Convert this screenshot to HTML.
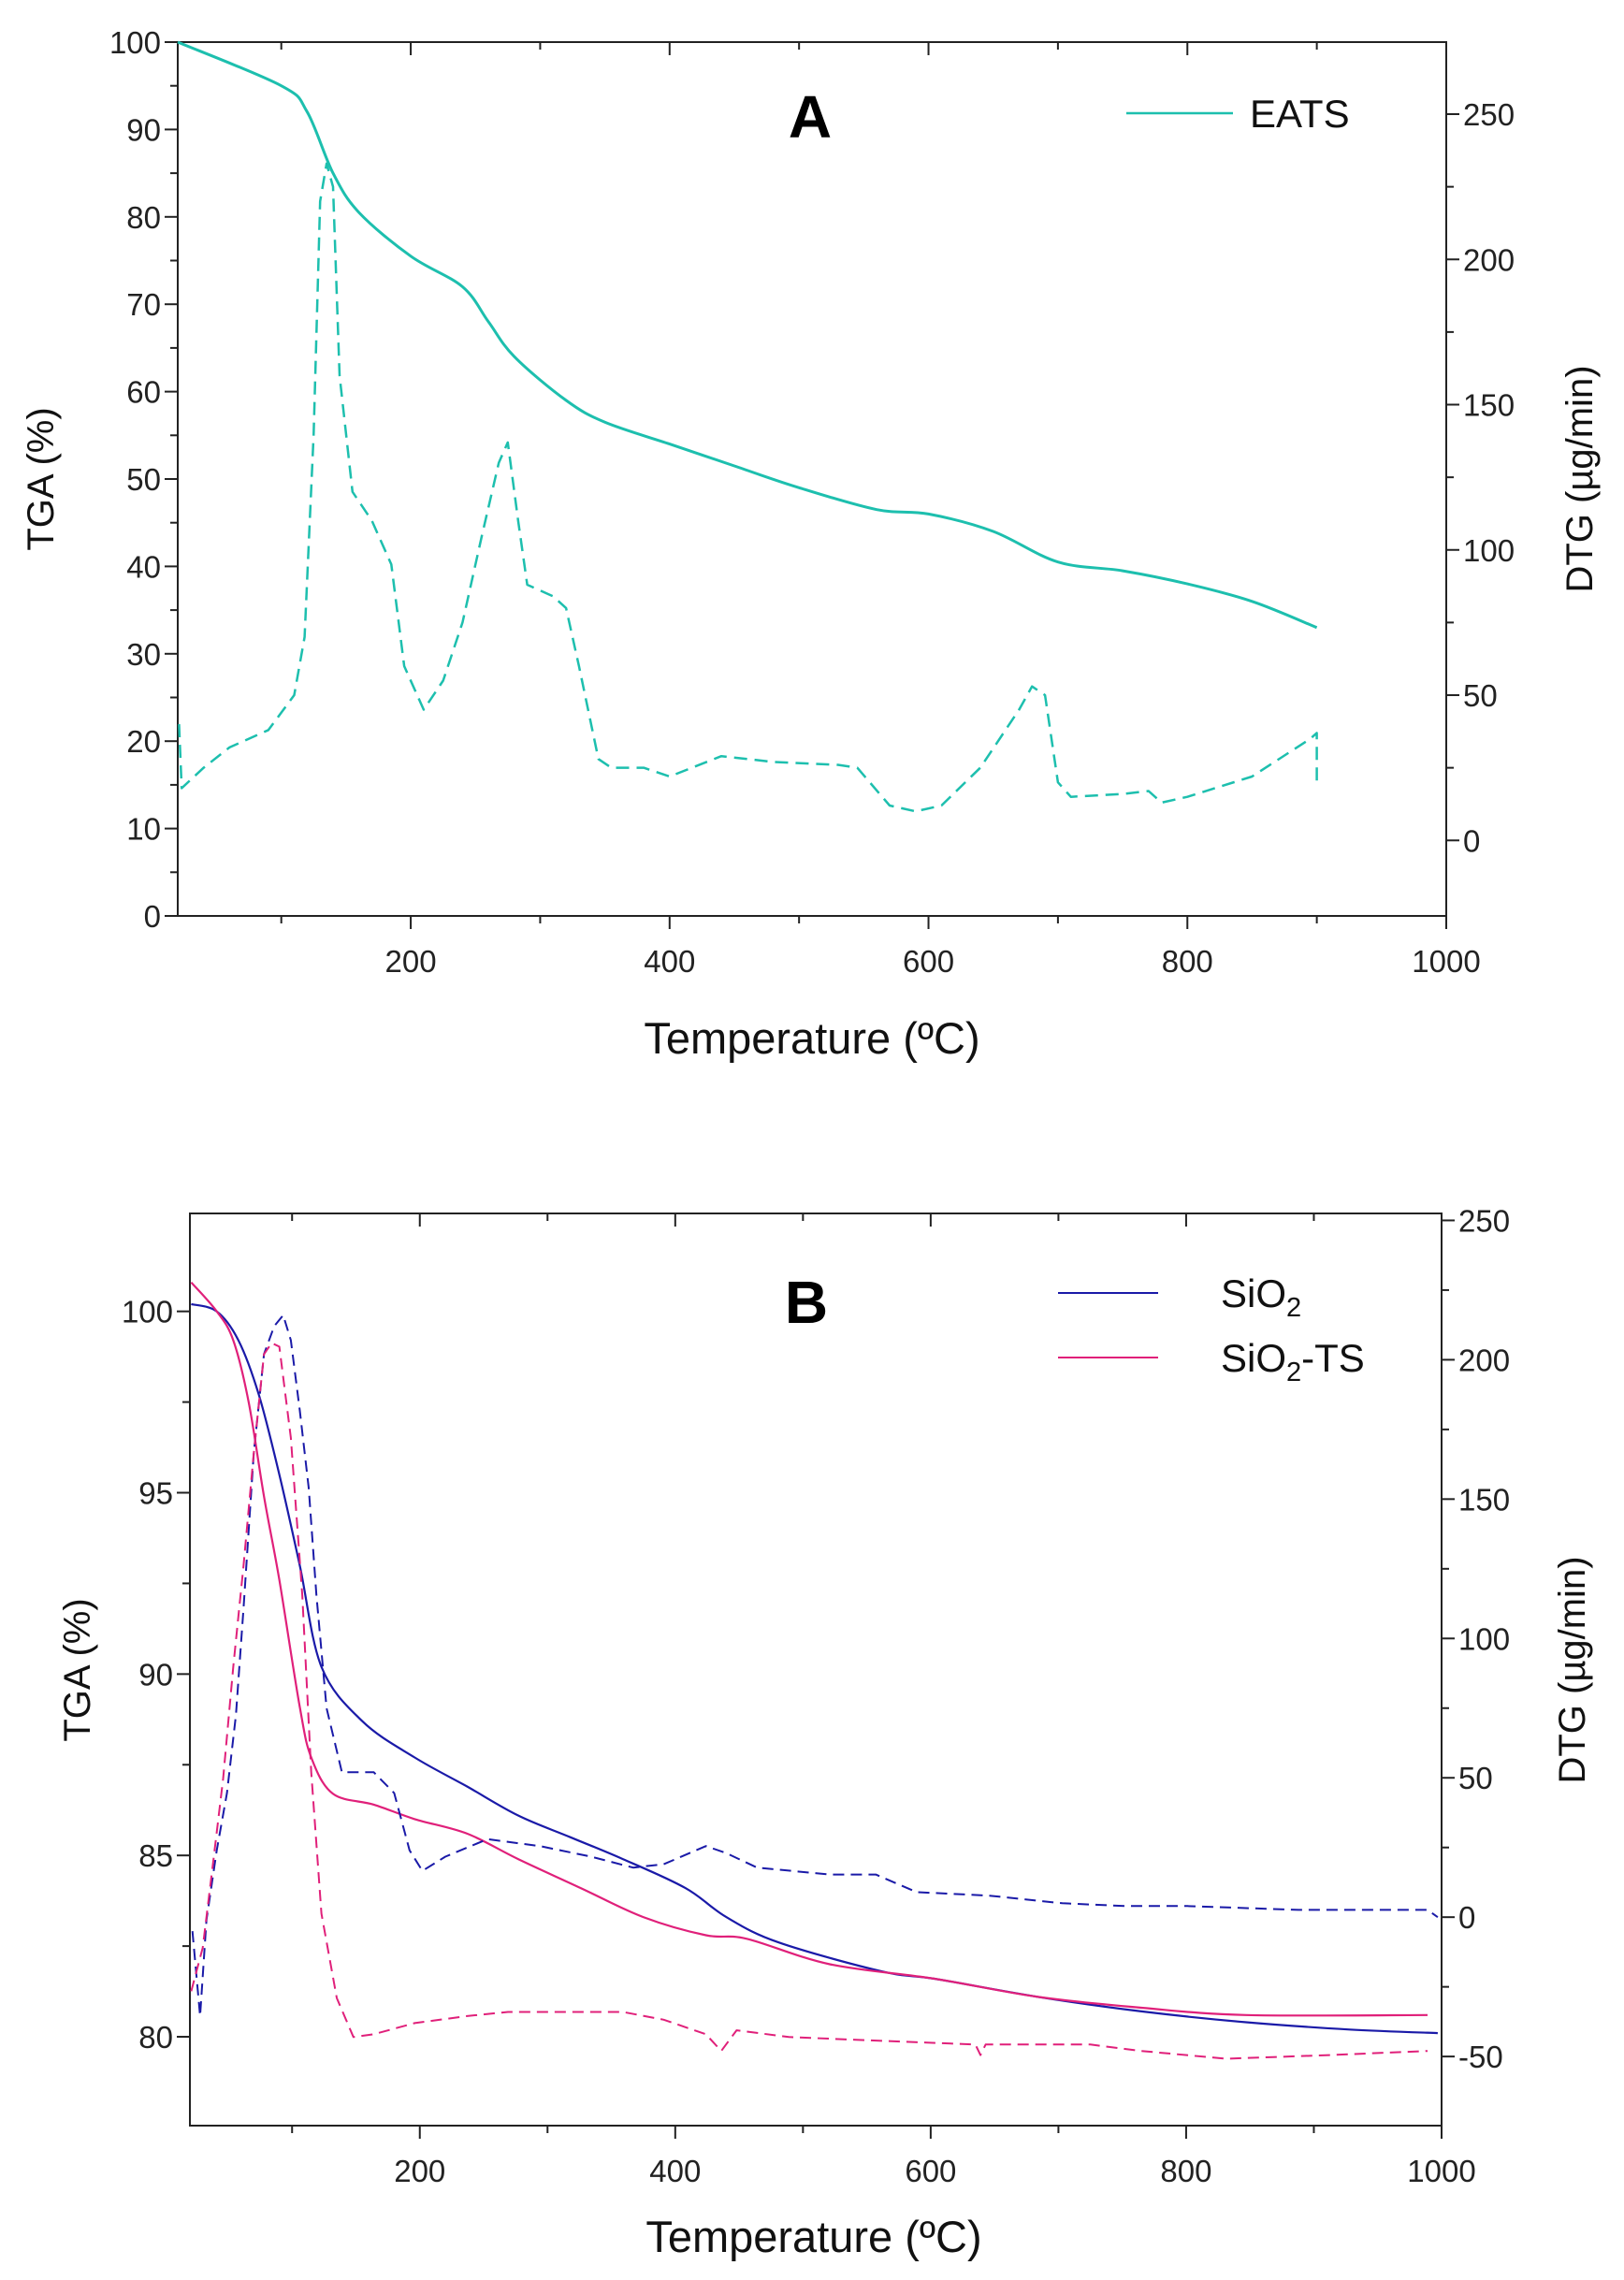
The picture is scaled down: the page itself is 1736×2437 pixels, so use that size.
<!DOCTYPE html>
<html><head><meta charset="utf-8">
<style>
html,body{margin:0;padding:0;background:#fff;}
svg{display:block;}
.tick{font-family:"Liberation Sans Narrow","Liberation Sans",sans-serif;font-size:33px;fill:#222;}
.ttl{font-family:"Liberation Sans",sans-serif;font-size:40px;fill:#111;}
.xt{font-family:"Liberation Sans Narrow","Liberation Sans",sans-serif;font-size:47px;fill:#111;}
.leg{font-family:"Liberation Sans Narrow","Liberation Sans",sans-serif;font-size:42px;fill:#111;}
.big{font-family:"Liberation Sans",sans-serif;font-size:64px;font-weight:bold;fill:#000;}
</style></head>
<body>
<svg id="chart" width="1736" height="2437" viewBox="0 0 1736 2437" xmlns="http://www.w3.org/2000/svg"></svg>
<script>
// Panel A data
const aTgaX=[20,100,120,140,160,200,240,260,280,320,350,400,450,500,560,600,650,700,750,800,850,900];
const aTgaY=[100,95,92,85,80.5,75.5,72,68,64,59,56.5,54,51.5,49,46.5,46,44,40.5,39.5,38,36,33];
const aDtgX=[21,23,40,60,90,110,118,125,130,135,140,145,155,170,185,195,210,225,240,255,268,275,283,290,310,320,330,345,355,380,400,440,480,530,545,570,590,610,640,670,680,690,700,710,750,770,780,800,850,895,900,900];
const aDtgY=[40,18,25,32,38,50,70,140,220,233,225,160,120,110,95,60,45,55,75,105,130,137,110,88,84,80,60,28,25,25,22,29,27,26,25,12,10,12,25,45,53,50,20,15,16,17,13,15,22,35,37,20];
const aXTicks=[200,400,600,800,1000];
const aYTicks=[0,10,20,30,40,50,60,70,80,90,100];
const aRTicks=[0,50,100,150,200,250];
// Panel B data
const bSiX=[21,41,58,74,90,106,123,155,196,237,277,318,359,408,440,481,562,603,684,765,847,928,997];
const bSiY=[100.2,100,99.2,97.7,95.5,93,90.2,88.7,87.7,86.9,86.1,85.5,84.9,84.1,83.3,82.6,81.8,81.6,81.1,80.7,80.4,80.2,80.1];
const bTsX=[21,41,54,66,78,90,106,115,132,164,196,237,277,326,375,424,456,521,603,684,765,847,989];
const bTsY=[100.8,100,99.2,97.5,94.9,92.6,89.1,87.7,86.7,86.4,86,85.6,84.9,84.1,83.3,82.8,82.7,82,81.6,81.1,80.8,80.6,80.6];
const bSiDX=[22,28,33,41,49,56,62,70,78,86,93,99,106,113,119,127,139,152,164,180,192,202,220,253,294,334,367,391,424,440,464,521,557,589,646,703,752,801,888,989,997];
const bSiDY=[-5,-35.5,-1,24,44.5,72.5,110.7,166.6,202,212,216,207,182,154,115.7,75,52,52,52,44.5,24,16.6,21.7,28,25.5,21.7,17.8,19,25.5,23,17.8,15.3,15.3,9,7.7,5,4,4,2.6,2.6,0];
const bTsDX=[21,30,38,46,54,62,70,78,84,90,99,108,115,123,135,148,164,196,237,269,318,359,391,424,436,448,489,562,635,639,643,725,765,831,912,989];
const bTsDY=[-26.6,-11,19,49.6,90,126,166.6,202,206,204.7,172,115.7,52,1.3,-29,-43,-42,-38,-35.5,-34,-34,-34,-36.8,-42,-48,-40.6,-43,-44.4,-45.7,-49.5,-45.7,-45.7,-48,-50.8,-49.5,-48];
const bXTicks=[200,400,600,800,1000];
const bYTicks=[80,85,90,95,100];
const bRTicks=[-50,0,50,100,150,200,250];

const NS='http://www.w3.org/2000/svg';
const svg=document.getElementById('chart');
function mk(tag,attrs,parent){const e=document.createElementNS(NS,tag);for(const k in attrs)e.setAttribute(k,attrs[k]);(parent||svg).appendChild(e);return e;}
function lin(d0,d1,r0,r1){return v=>r0+(v-d0)*(r1-r0)/(d1-d0);}
function smoothPath(pts){
  let d='M'+pts[0][0].toFixed(1)+','+pts[0][1].toFixed(1);
  for(let i=0;i<pts.length-1;i++){
    const p0=pts[Math.max(0,i-1)],p1=pts[i],p2=pts[i+1],p3=pts[Math.min(pts.length-1,i+2)];
    const c1x=p1[0]+(p2[0]-p0[0])/6,c1y=p1[1]+(p2[1]-p0[1])/6;
    const c2x=p2[0]-(p3[0]-p1[0])/6,c2y=p2[1]-(p3[1]-p1[1])/6;
    d+=' C'+c1x.toFixed(1)+','+c1y.toFixed(1)+' '+c2x.toFixed(1)+','+c2y.toFixed(1)+' '+p2[0].toFixed(1)+','+p2[1].toFixed(1);
  }
  return d;
}

function panel(p){
  const g=mk('g',{});
  
  
  const sx=lin(p.xmin,p.xmax,p.L,p.R), sy=lin(p.ymin,p.ymax,p.B,p.T), sr=lin(p.rmin,p.rmax,p.B,p.T);
  const fr=mk('rect',{x:p.L,y:p.T,width:p.R-p.L,height:p.B-p.T,fill:'none',stroke:'#222','stroke-width':2},g);
  
  
  for(let v=100;v<=p.xmax;v+=100){const x=sx(v);const maj=v%200===0;
    mk('line',{x1:x,x2:x,y1:p.B,y2:p.B+(maj?14:8),stroke:'#222','stroke-width':2},g);
    mk('line',{x1:x,x2:x,y1:p.T,y2:p.T+(maj?14:8),stroke:'#222','stroke-width':2},g);}
  p.xt.forEach(v=>{const t=mk('text',{x:sx(v),y:p.B+60,'text-anchor':'middle',class:'tick'},g);t.textContent=v;
    
    });
  for(let i=0;i<p.yt.length;i++){const v=p.yt[i];const y=sy(v);
    mk('line',{x1:p.L-14,x2:p.L,y1:y,y2:y,stroke:'#222','stroke-width':2},g);
    if(i<p.yt.length-1){const h=sy(v+(p.yt[1]-p.yt[0])/2);mk('line',{x1:p.L-8,x2:p.L,y1:h,y2:h,stroke:'#222','stroke-width':2},g);}
    const t=mk('text',{x:p.L-18,y:y+12,'text-anchor':'end',class:'tick'},g);t.textContent=v;
    
    }
  for(let i=0;i<p.rt.length;i++){const v=p.rt[i];const y=sr(v);
    mk('line',{x1:p.R,x2:p.R+14,y1:y,y2:y,stroke:'#222','stroke-width':2},g);
    const h=sr(v+(p.rt[1]-p.rt[0])/2);if(h>p.T)mk('line',{x1:p.R,x2:p.R+8,y1:h,y2:h,stroke:'#222','stroke-width':2},g);
    const t=mk('text',{x:p.R+18,y:y+12,'text-anchor':'start',class:'tick'},g);t.textContent=v;
    
    }
  p.series.forEach(s=>{
    const sc=s.axis==='r'?sr:sy;
    const pts=s.x.map((v,i)=>[sx(v),sc(s.y[i])]);
    const d=s.smooth?smoothPath(pts):pts.map((q,i)=>(i?'L':'M')+q[0].toFixed(1)+','+q[1].toFixed(1)).join(' ');
    const pa=mk('path',{d:d,fill:'none',stroke:s.c,'stroke-width':s.w,'stroke-linejoin':'round'},g);
    if(s.dash)pa.setAttribute('stroke-dasharray',s.dash);
    
    
  });
  return g;
}

panel({name:'panel-a',L:190,R:1546,T:45,B:979,xmin:20,xmax:1000,ymin:0,ymax:100,rmin:-26,rmax:274.8,
  xt:aXTicks,yt:aYTicks,rt:aRTicks,
  series:[{name:'eats-tga-line',x:aTgaX,y:aTgaY,c:'#1dbfae',w:3,smooth:true},
          {name:'eats-dtg-line',x:aDtgX,y:aDtgY,c:'#1dbfae',w:2.5,dash:'14 8',axis:'r'}]});
panel({name:'panel-b',L:203,R:1541,T:1297,B:2272,xmin:20,xmax:1000,ymin:77.55,ymax:102.7,rmin:-74.8,rmax:252.5,
  xt:bXTicks,yt:bYTicks,rt:bRTicks,
  series:[{name:'sio2-tga-line',x:bSiX,y:bSiY,c:'#1a1aa8',w:2.2,smooth:true},
          {name:'sio2-ts-tga-line',x:bTsX,y:bTsY,c:'#e0207a',w:2.2,smooth:true},
          {name:'sio2-dtg-line',x:bSiDX,y:bSiDY,c:'#1a1aa8',w:2,dash:'12 7',axis:'r'},
          {name:'sio2-ts-dtg-line',x:bTsDX,y:bTsDY,c:'#e0207a',w:2,dash:'12 7',axis:'r'}]});

function txt(x,y,s,cls,name,rot){const t=mk('text',{x:x,y:y,class:cls,'text-anchor':'middle'});
  if(rot)t.setAttribute('transform','rotate(-90 '+x+' '+y+')');t.innerHTML=s;
  
  return t;}
txt(866,147,'A','big','panel-a-label');
txt(57,512,'TGA (%)','ttl','a-left-y-axis-title',true);
txt(1702,512,'DTG (µg/min)','ttl','a-right-y-axis-title',true);
txt(868,1126,'Temperature (ºC)','xt','a-x-axis-title');
const la=mk('line',{x1:1204,x2:1318,y1:121,y2:121,stroke:'#1dbfae','stroke-width':2.5});


const lt=mk('text',{x:1336,y:136,class:'leg'});lt.textContent='EATS';



txt(862,1414,'B','big','panel-b-label');
txt(96,1785,'TGA (%)','ttl','b-left-y-axis-title',true);
txt(1694,1785,'DTG (µg/min)','ttl','b-right-y-axis-title',true);
txt(870,2407,'Temperature (ºC)','xt','b-x-axis-title');
const lb1=mk('line',{x1:1131,x2:1238,y1:1382,y2:1382,stroke:'#1a1aa8','stroke-width':2});


const lb2=mk('line',{x1:1131,x2:1238,y1:1451,y2:1451,stroke:'#e0207a','stroke-width':2});


const t1=mk('text',{x:1305,y:1397,class:'leg'});t1.innerHTML='SiO<tspan font-size="29" dy="10">2</tspan>';


const t2=mk('text',{x:1305,y:1466,class:'leg'});t2.innerHTML='SiO<tspan font-size="29" dy="10">2</tspan><tspan dy="-10">-TS</tspan>';


</script>
</body></html>
